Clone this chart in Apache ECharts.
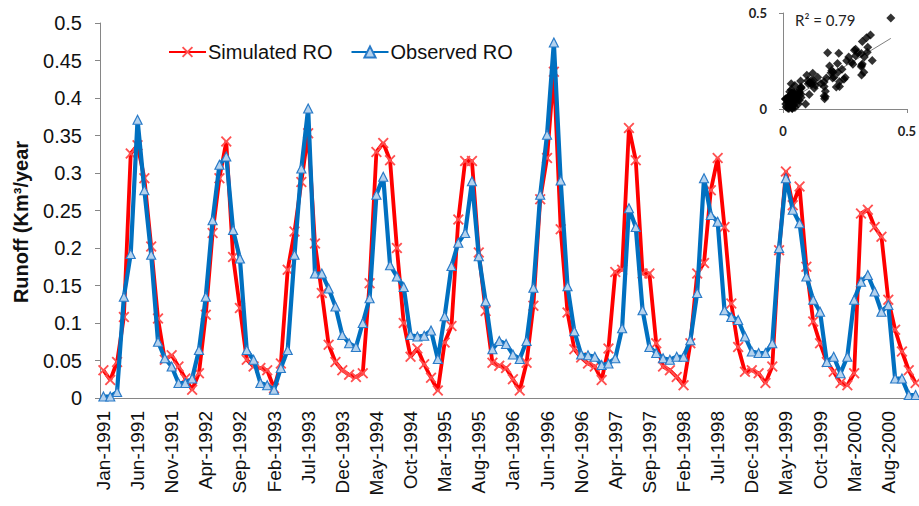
<!DOCTYPE html>
<html><head><meta charset="utf-8">
<script src="https://cdn.jsdelivr.net/npm/echarts@6/dist/echarts.min.js"></script>
<style>html,body{margin:0;padding:0;background:#fff}#c{width:919px;height:506px}</style>
</head><body><div id="c"></div>
<script>
const months = ['Jan','Feb','Mar','Apr','May','Jun','Jul','Aug','Sep','Oct','Nov','Dec'];
const years = [1991,1992,1993,1994,1995,1996,1997,1998,1999,2000];
const categories = years.flatMap(y => months.map(m => m + '-' + y));

const simulatedRO = [
 0.037,0.024,0.048,0.108,0.326,0.337,0.293,0.202,0.106,0.051,0.057,0.042,
 0.026,0.011,0.033,0.111,0.220,0.293,0.342,0.188,0.120,0.051,0.042,0.040,
 0.037,0.013,0.046,0.171,0.222,0.288,0.353,0.206,0.140,0.071,0.048,0.037,
 0.031,0.028,0.033,0.153,0.328,0.340,0.317,0.200,0.100,0.055,0.066,0.045,
 0.027,0.010,0.074,0.096,0.238,0.316,0.316,0.194,0.116,0.047,0.043,0.040,
 0.025,0.010,0.047,0.123,0.265,0.320,0.435,0.225,0.114,0.065,0.054,0.046,
 0.042,0.024,0.066,0.168,0.171,0.360,0.317,0.166,0.166,0.073,0.042,0.037,
 0.028,0.017,0.073,0.166,0.180,0.277,0.320,0.228,0.126,0.068,0.035,0.037,
 0.033,0.020,0.042,0.197,0.302,0.257,0.282,0.175,0.102,0.073,0.048,0.035,
 0.020,0.017,0.033,0.246,0.251,0.228,0.215,0.131,0.091,0.062,0.037,0.020
];
const observedRO = [
 0.002,0.002,0.008,0.135,0.192,0.371,0.277,0.191,0.075,0.053,0.042,0.020,
 0.020,0.026,0.064,0.135,0.237,0.311,0.322,0.224,0.186,0.064,0.051,0.020,
 0.017,0.011,0.040,0.064,0.191,0.306,0.386,0.166,0.166,0.146,0.122,0.084,
 0.073,0.068,0.100,0.133,0.271,0.295,0.177,0.162,0.148,0.084,0.082,0.083,
 0.090,0.052,0.109,0.176,0.207,0.220,0.289,0.189,0.129,0.065,0.076,0.072,
 0.058,0.052,0.076,0.147,0.271,0.351,0.474,0.290,0.149,0.089,0.058,0.057,
 0.055,0.044,0.046,0.053,0.093,0.253,0.228,0.117,0.068,0.060,0.053,0.051,
 0.055,0.055,0.077,0.140,0.293,0.244,0.235,0.117,0.108,0.104,0.082,0.062,
 0.060,0.060,0.073,0.200,0.293,0.251,0.233,0.162,0.131,0.115,0.048,0.055,
 0.033,0.055,0.131,0.155,0.164,0.142,0.115,0.124,0.026,0.026,0.004,0.004
];
const seriesNames = ['Simulated RO','Observed RO'];
const yAxisTitle = 'Runoff (Km\u00B3/year';
const r2Label = 'R\u00B2 = 0.79';

// linear trend of observed vs simulated for the inset
const n = simulatedRO.length;
const mx = simulatedRO.reduce((a,b)=>a+b,0)/n;
const my = observedRO.reduce((a,b)=>a+b,0)/n;
let sxy = 0, sxx = 0;
for (let i=0;i<n;i++){ sxy += (simulatedRO[i]-mx)*(observedRO[i]-my); sxx += (simulatedRO[i]-mx)**2; }
const slope = sxy/sxx, icpt = my - slope*mx;
const xMin = Math.min(...simulatedRO), xMax = Math.max(...simulatedRO);
const trend = [[xMin, icpt + slope*xMin],[xMax, icpt + slope*xMax]];
const scatterData = simulatedRO.map((s,i)=>[s, observedRO[i]]);

const FONT = '"Liberation Sans", Arial, sans-serif';
const crossPath = 'path://M0,1.2L1.2,0L5,3.8L8.8,0L10,1.2L6.2,5L10,8.8L8.8,10L5,6.2L1.2,10L0,8.8L3.8,5Z';

const chart = echarts.init(document.getElementById('c'), null, {renderer:'svg'});
chart.setOption({
  animation: false,
  backgroundColor: '#fff',
  textStyle: {fontFamily: FONT},
  legend: {
    left: 163, top: 37, itemWidth: 37, itemHeight: 14, itemGap: 18,
    textStyle: {fontSize: 20, color: '#111', fontFamily: FONT, padding: [0,0,0,-3]},
    data: seriesNames
  },
  grid: [
    {left: 100, top: 23, width: 821, bottom: 108},
    {left: 783, top: 13, width: 129, height: 96}
  ],
  xAxis: [
    {
      type: 'category', data: categories, boundaryGap: true, gridIndex: 0,
      axisLine: {lineStyle: {color: '#868686', width: 1}},
      axisTick: {interval: 4, length: 6, lineStyle: {color: '#868686'}},
      axisLabel: {interval: 4, rotate: 90, margin: 13, fontSize: 19, color: '#111', fontFamily: FONT},
      splitLine: {show: false}
    },
    {
      type: 'value', gridIndex: 1, min: 0, max: 0.5, interval: 0.5,
      axisLine: {lineStyle: {color: '#868686'}},
      axisTick: {length: 4, lineStyle: {color: '#868686'}},
      axisLabel: {margin: 15, fontSize: 13, fontWeight: 'bold', color: '#222', fontFamily: 'Lato, sans-serif'},
      splitLine: {show: false}
    }
  ],
  yAxis: [
    {
      type: 'value', gridIndex: 0, min: 0, max: 0.5, interval: 0.05,
      axisLine: {show: true, lineStyle: {color: '#868686', width: 1}},
      axisTick: {show: true, length: 5, lineStyle: {color: '#868686'}},
      axisLabel: {margin: 18, fontSize: 20, color: '#111', fontFamily: FONT},
      splitLine: {show: false}
    },
    {
      type: 'value', gridIndex: 1, min: 0, max: 0.5, interval: 0.5,
      axisLine: {show: true, lineStyle: {color: '#868686'}},
      axisTick: {show: true, length: 4, lineStyle: {color: '#868686'}},
      axisLabel: {margin: 16, fontSize: 13, fontWeight: 'bold', color: '#222', fontFamily: 'Lato, sans-serif'},
      splitLine: {show: false}
    }
  ],
  graphic: [
    {type: 'text', x: 21, y: 222, rotation: Math.PI/2,
     style: {text: yAxisTitle, font: 'bold 20px "Liberation Sans", Arial, sans-serif', fill: '#111', align: 'center', verticalAlign: 'middle'}},
    {type: 'text', x: 795, y: 20,
     style: {text: r2Label, font: '15px Lato, sans-serif', fill: '#222', align: 'left', verticalAlign: 'middle'}}
  ],
  series: [
    {
      name: seriesNames[0], type: 'line', data: simulatedRO, xAxisIndex: 0, yAxisIndex: 0,
      symbol: crossPath, symbolSize: 11, showAllSymbol: true,
      lineStyle: {color: '#ff0000', width: 3.8},
      itemStyle: {color: '#ff5050', borderWidth: 0},
      z: 2
    },
    {
      name: seriesNames[1], type: 'line', data: observedRO, xAxisIndex: 0, yAxisIndex: 0,
      symbol: 'triangle', symbolSize: 9, showAllSymbol: true,
      lineStyle: {color: '#0070c0', width: 4.2},
      itemStyle: {color: '#b4d2ee', borderColor: '#2a7bc8', borderWidth: 1.2},
      z: 3
    },
    {
      type: 'line', data: trend, xAxisIndex: 1, yAxisIndex: 1, symbol: 'none',
      lineStyle: {color: '#7f7f7f', width: 1}, z: 2, silent: true
    },
    {
      type: 'scatter', data: scatterData, xAxisIndex: 1, yAxisIndex: 1,
      symbol: 'diamond', symbolSize: 9, itemStyle: {color: '#000'}, z: 3
    }
  ]
});
</script>
</body></html>
